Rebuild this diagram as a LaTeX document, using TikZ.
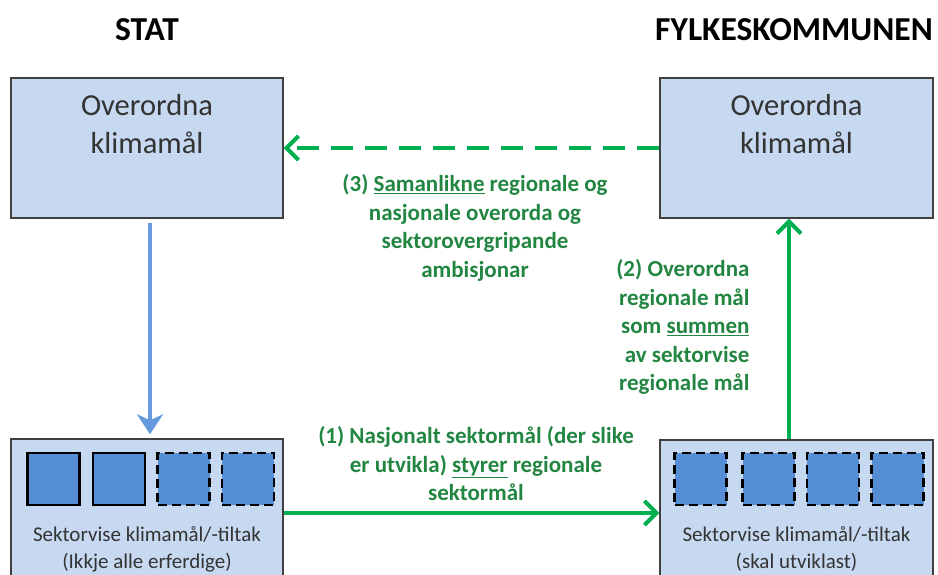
\documentclass[tikz,border=0pt]{standalone}
\usepackage{fontspec}
\setmainfont{Carlito}
\usetikzlibrary{arrows.meta}
\definecolor{boxfill}{RGB}{198,217,241}
\definecolor{boxline}{RGB}{64,64,64}
\definecolor{sqfill}{RGB}{85,142,213}
\definecolor{bluearrow}{RGB}{102,153,222}
\definecolor{greenarrow}{RGB}{0,176,80}
\definecolor{greentext}{RGB}{34,134,66}
\definecolor{graytext}{RGB}{51,51,51}
\tikzset{
  bigbox/.style={draw=boxline, line width=1.4pt, fill=boxfill, minimum width=272pt, inner sep=0pt},
  sq/.style={draw=black, line width=2.4pt, fill=sqfill, minimum width=52pt, minimum height=52pt, inner sep=0pt},
  sqdash/.style={sq, dash pattern=on 9pt off 5pt},
  title/.style={font=\fontsize{33.5}{38}\selectfont\bfseries, text=black},
  boxtext/.style={font=\fontsize{30.5}{38}\selectfont, text=graytext, align=center},
  smalltext/.style={font=\fontsize{21}{27}\selectfont, text=graytext, align=center},
  lbl/.style={font=\fontsize{23}{28.5}\selectfont\bfseries, text=greentext},
  garrow/.style={draw=greenarrow, line width=4pt, -{Straight Barb[length=12pt,width=24pt,line width=4pt]}},
  barrow/.style={draw=bluearrow, line width=4pt, -{Stealth[length=20pt,width=26pt,inset=6pt]}},
}
\begin{document}
\begin{tikzpicture}[x=1pt,y=-1pt]
\useasboundingbox (0,0) rectangle (938,574);
\clip (0,0) rectangle (938,574);
% titles
\node[title] (tstat) at (147,30) {STAT};
\node[title] (tfylke) at (794,30) {FYLKESKOMMUNEN};
% top boxes
\node[bigbox, minimum height=140pt] (tl) at (147,148) {};
\node[bigbox, minimum width=273pt, minimum height=140pt] (tr) at (796.5,148) {};
\node[boxtext] (tltxt) at (147,124) {Overordna\\klimamål};
\node[boxtext] (trtxt) at (796.5,124) {Overordna\\klimamål};
% bottom boxes
\node[bigbox, minimum height=160pt] (bl) at (147,519) {};
\node[bigbox, minimum width=273pt, minimum height=160pt] (br) at (796.5,520) {};
% squares
\node[sq] (s1) at (53.5,479) {};
\node[sq] (s2) at (119,479) {};
\node[sqdash] (s3) at (183.5,479) {};
\node[sqdash] (s4) at (248,479) {};
\node[sqdash] (s5) at (700.5,479) {};
\node[sqdash] (s6) at (768.5,479) {};
\node[sqdash] (s7) at (833,479) {};
\node[sqdash] (s8) at (897.5,479) {};
\node[smalltext] (bltxt) at (147,549) {Sektorvise klimamål/-tiltak\\(Ikkje alle erferdige)};
\node[smalltext] (brtxt) at (796.5,549) {Sektorvise klimamål/-tiltak\\(skal utviklast)};
% connectors
\draw[barrow] ([xshift=3pt,yshift=-4pt]tl.south) -- ([xshift=3pt,yshift=4pt]bl.north);
\draw[garrow, dash pattern=on 22pt off 12pt] (tr.west) -- (tl.west -| tl.east);
\draw[garrow] (bl.east |- 0,513) -- (br.west |- 0,513);
\draw[garrow] (br.north -| 789,0) -- (tr.south -| 789,0);
% labels
\node[lbl, align=center] (l3) at (475,228) {(3) \underline{Samanlikne} regionale og\\nasjonale overorda og\\sektorovergripande\\ambisjonar};
\node[lbl, align=right, anchor=east] (l2) at (753,327) {(2) Overordna\\regionale mål\\som \underline{summen}\\av sektorvise\\regionale mål};
\node[lbl, align=center] (l1) at (476,464) {(1) Nasjonalt sektormål (der slike\\er utvikla) \underline{styrer} regionale\\sektormål};
\end{tikzpicture}
\end{document}
